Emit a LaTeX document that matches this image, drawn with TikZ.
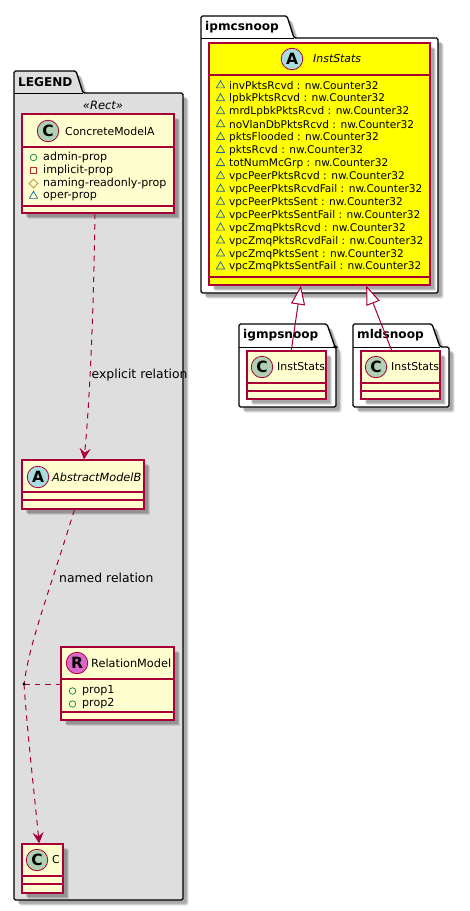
\documentclass[tikz,border=0pt]{standalone}
\usepackage{fontspec}
\setmainfont{DejaVu Sans}
\usetikzlibrary{arrows.meta,positioning,shapes.geometric,shadows,calc}
\definecolor{umlred}{HTML}{A80036}
\definecolor{umlfill}{HTML}{FEFECE}
\definecolor{statfill}{HTML}{FFFF00}
\definecolor{spotc}{HTML}{ADD1B2}
\definecolor{spota}{HTML}{A9DCDF}
\definecolor{spotr}{HTML}{DD66CC}
\definecolor{visprot}{HTML}{1963A0}
\definecolor{vispub}{HTML}{038048}
\definecolor{vispriv}{HTML}{C82930}
\definecolor{vispack}{HTML}{B38D22}
\tikzset{
softshadow/.style={drop shadow={shadow xshift=5.5pt,shadow yshift=-5.5pt,fill=black,opacity=.1},drop shadow={shadow xshift=4.5pt,shadow yshift=-4.5pt,fill=black,opacity=.14},drop shadow={shadow xshift=3.5pt,shadow yshift=-3.5pt,fill=black,opacity=.14}},
pkg/.style={draw=black,line width=1.3pt,rounded corners=1.5pt,softshadow},
pkgname/.style={font=\fontsize{12.1}{14}\selectfont\bfseries,inner sep=0pt,anchor=west},
umlclass/.style={draw=umlred,fill=umlfill,line width=1.2pt,inner sep=0pt,softshadow},
sep/.style={draw=umlred,line width=1.2pt},
spot/.style={circle,draw=umlred,line width=.8pt,minimum size=21.5pt,inner sep=0pt,font=\fontsize{15.5}{16}\selectfont\bfseries},
title/.style={font=\fontsize{10.9}{13}\selectfont,inner sep=0pt,anchor=west},
member/.style={font=\fontsize{10.6}{12}\selectfont,inner sep=0pt,anchor=west},
legendmember/.style={font=\fontsize{11.1}{12}\selectfont,inner sep=0pt,anchor=west},
edgelabel/.style={font=\fontsize{12.4}{14}\selectfont,inner sep=0pt,anchor=west},
prot/.style={regular polygon,regular polygon sides=3,draw=visprot,line width=.7pt,minimum size=9.5pt,inner sep=0pt},
pub/.style={circle,draw=vispub,line width=.7pt,minimum size=6.5pt,inner sep=0pt},
priv/.style={rectangle,draw=vispriv,line width=.7pt,minimum size=6.5pt,inner sep=0pt},
pack/.style={diamond,draw=vispack,line width=.7pt,minimum size=9pt,inner sep=0pt},
relation/.style={umlred,line width=1pt,dash pattern=on 5.5pt off 5pt,-{Stealth[length=11pt,width=11pt,inset=4pt]}},
link/.style={umlred,line width=1pt,dash pattern=on 5.5pt off 5pt},
extends/.style={umlred,line width=1pt,-{Triangle[open,fill=white,length=19pt,width=14pt]}}
}
\begin{document}
\begin{tikzpicture}[x=1pt,y=-1pt]
\useasboundingbox (0,0) rectangle (470,911);
% packages
\draw[pkg,fill=black!13] (14,93)--(14,71)--(76,71)--(83,93)--(183,93)--(183,900)--(14,900)--cycle;
\draw[line width=1pt] (14,93)--(83,93);
\node[pkgname] (legendname) at (18,82){LEGEND};
\draw[pkg,fill=white] (201,38)--(201,16)--(287,16)--(294,38)--(438,38)--(438,293)--(201,293)--cycle;
\draw[line width=1pt] (201,38)--(294,38);
\node[pkgname] (ipmcname) at (205,27){ipmcsnoop};
\draw[pkg,fill=white] (239,347)--(239,324)--(327,324)--(335,347)--(336,347)--(336,407)--(239,407)--cycle;
\draw[line width=1pt] (239,347)--(335,347);
\node[pkgname] (igmpname) at (243,335){igmpsnoop};
\draw[pkg,fill=white] (353,347)--(353,324)--(432,324)--(440,347)--(449,347)--(449,407)--(353,407)--cycle;
\draw[line width=1pt] (353,347)--(440,347);
\node[pkgname] (mldname) at (357,335){mldsnoop};
\node[font=\fontsize{11.5}{13}\selectfont\itshape,inner sep=0pt] (stereo) at (103,105){«Rect»};
% classes
\node[umlclass,fill=statfill,minimum width=221pt,minimum height=242pt] (inststats) at (319.5,164){};
\node[umlclass,minimum width=79pt,minimum height=48pt] (igmpstats) at (286.5,375){};
\node[umlclass,minimum width=79pt,minimum height=48pt] (mldstats) at (400.5,375){};
\node[umlclass,minimum width=152pt,minimum height=99pt] (concrete) at (98,163.5){};
\node[umlclass,minimum width=122pt,minimum height=49pt] (abstract) at (83,484.5){};
\node[umlclass,minimum width=113pt,minimum height=73pt] (relmodel) at (117.5,683.5){};
\node[umlclass,minimum width=41pt,minimum height=49pt] (cclass) at (42.5,868.5){};
% compartments
\draw[sep] (inststats.west|-0,75)--(inststats.east|-0,75);
\draw[sep] (inststats.west|-0,277)--(inststats.east|-0,277);
\draw[sep] (igmpstats.west|-0,383)--(igmpstats.east|-0,383);
\draw[sep] (igmpstats.west|-0,391)--(igmpstats.east|-0,391);
\draw[sep] (mldstats.west|-0,383)--(mldstats.east|-0,383);
\draw[sep] (mldstats.west|-0,391)--(mldstats.east|-0,391);
\draw[sep] (concrete.west|-0,147)--(concrete.east|-0,147);
\draw[sep] (concrete.west|-0,206)--(concrete.east|-0,206);
\draw[sep] (abstract.west|-0,492)--(abstract.east|-0,492);
\draw[sep] (abstract.west|-0,500)--(abstract.east|-0,500);
\draw[sep] (relmodel.west|-0,679)--(relmodel.east|-0,679);
\draw[sep] (relmodel.west|-0,712)--(relmodel.east|-0,712);
\draw[sep] (cclass.west|-0,876)--(cclass.east|-0,876);
\draw[sep] (cclass.west|-0,884)--(cclass.east|-0,884);
% class heads
\node[spot,fill=spota] (spotinst) at (292,59){A};
\node[title,font=\fontsize{10.9}{13}\selectfont\itshape] (nameinst) at (313,59){InstStats};
\node[spot,fill=spotc] (spotigmp) at (262,367){C};
\node[title] (nameigmp) at (277,367){InstStats};
\node[spot,fill=spotc] (spotmld) at (376,367){C};
\node[title] (namemld) at (391,367){InstStats};
\node[spot,fill=spotc] (spotconcrete) at (48,131){C};
\node[title] (nameconcrete) at (65,131){ConcreteModelA};
\node[spot,fill=spota] (spotabstract) at (38,477){A};
\node[title,font=\fontsize{11.3}{13}\selectfont\itshape] (nameabstract) at (52,477){AbstractModelB};
\node[spot,fill=spotr] (spotrel) at (77,663){R};
\node[title,font=\fontsize{11.3}{13}\selectfont] (namerel) at (91,663){RelationModel};
\node[spot,fill=spotc] (spotc) at (37,860){C};
\node[title] (namec) at (52,860){C};
% members
\foreach \i/\txt in {0/invPktsRcvd,1/lpbkPktsRcvd,2/mrdLpbkPktsRcvd,3/noVlanDbPktsRcvd,4/pktsFlooded,5/pktsRcvd,6/totNumMcGrp,7/vpcPeerPktsRcvd,8/vpcPeerPktsRcvdFail,9/vpcPeerPktsSent,10/vpcPeerPktsSentFail,11/vpcZmqPktsRcvd,12/vpcZmqPktsRcvdFail,13/vpcZmqPktsSent,14/vpcZmqPktsSentFail}{
\node[prot] (icon\i) at (220.5,85.5+12.93*\i){};
\node[member] (row\i) at (229,86+12.93*\i){\txt{} : nw.Counter32};
}
\node[pub] (iconadmin) at (33.5,157.5){};
\node[legendmember] (admin) at (43,157.5){admin-prop};
\node[priv] (iconimplicit) at (33.5,170.5){};
\node[legendmember] (implicit) at (43,170.5){implicit-prop};
\node[pack] (iconnaming) at (33.5,183.5){};
\node[legendmember] (naming) at (43,183.5){naming-readonly-prop};
\node[prot] (iconoper) at (33.5,196){};
\node[legendmember] (oper) at (43,196.5){oper-prop};
\node[pub] (iconprop1) at (72.5,691){};
\node[legendmember] (propa) at (82,691){prop1};
\node[pub] (iconprop2) at (72.5,704){};
\node[legendmember] (propb) at (82,704){prop2};
% relations
\coordinate (assoc) at (24,684);
\draw[relation] ($(concrete.south west)!.48!(concrete.south east)$) .. controls (94,300) and (90,400) .. (abstract.north-|84,0);
\draw[link] ($(abstract.south west)!.43!(abstract.south east)$) .. controls (50,590) and (30,640) .. (assoc);
\draw[relation] (assoc) .. controls (28,740) and (35,800) .. ($(cclass.north west)!.42!(cclass.north east)$);
\draw[link] (assoc)--(relmodel.west|-assoc);
\fill (assoc) circle (1.7pt);
\node[edgelabel] (explicit) at (91.5,375){explicit relation};
\node[edgelabel] (named) at (59,578){named relation};
\draw[extends] ($(igmpstats.north west)!.56!(igmpstats.north east)$)--($(inststats.south west)!.416!(inststats.south east)$);
\draw[extends] ($(mldstats.north west)!.39!(mldstats.north east)$)--($(inststats.south west)!.71!(inststats.south east)$);
\end{tikzpicture}
\end{document}
